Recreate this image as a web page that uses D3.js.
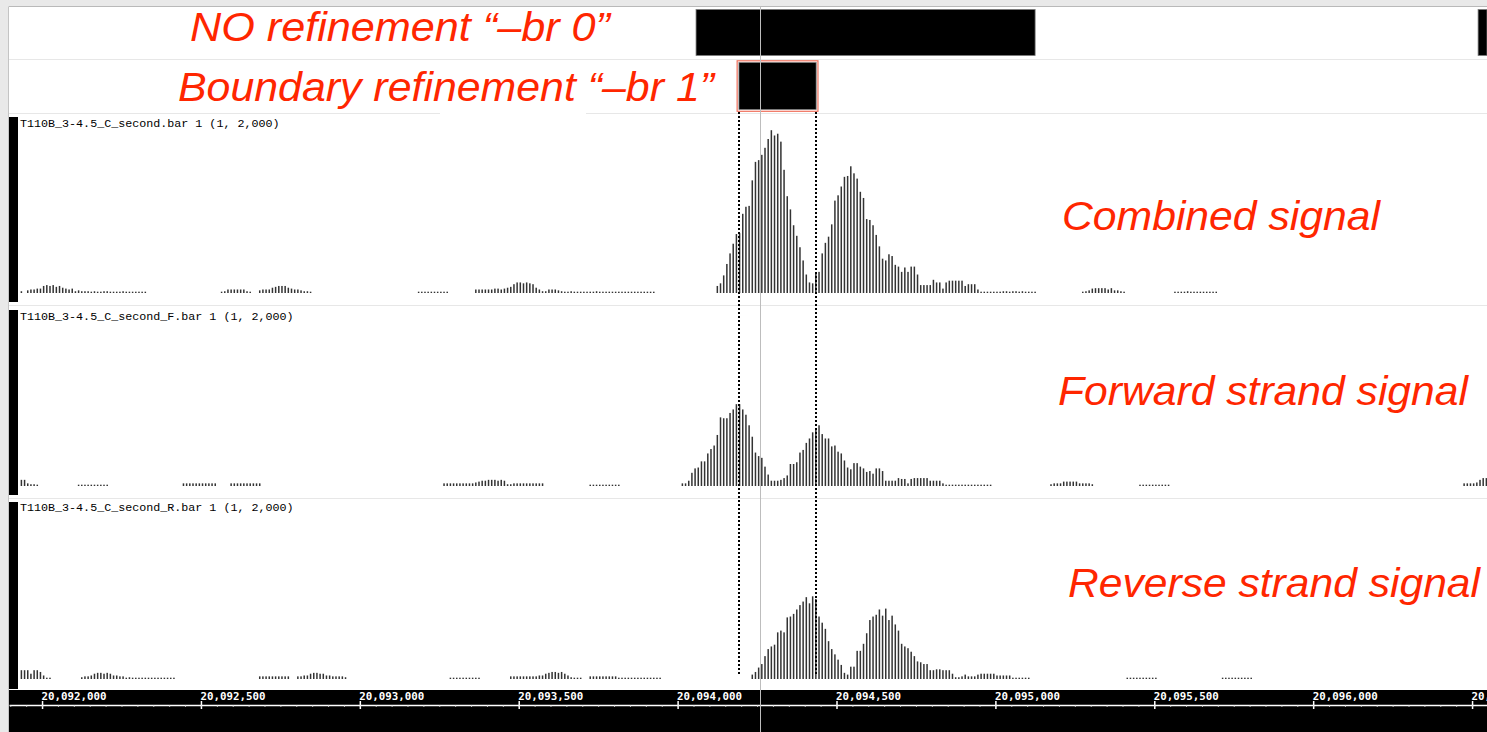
<!DOCTYPE html>
<html>
<head>
<meta charset="utf-8">
<script src="https://cdn.jsdelivr.net/npm/d3@7"></script>
<style>
  body { margin: 0; background: #e9e9e9; overflow: hidden; }
</style>
</head>
<body>
<div id="viz"></div>
<script>
// genome browser view: two feature rows + three bar tracks (10 bp bins)

const binSize = 10;
const viewRange = [20091896, 20096547];
const majorTicks = [20092000, 20092500, 20093000, 20093500, 20094000, 20094500, 20095000, 20095500, 20096000, 20096500];
const centerPosition = 20094260;

// feature rows [start, end]
const noRefineFeatures = [[20094058, 20095125], [20096519, 20096600]];
const refineFeatures = [[20094193, 20094436]];
const boundaryPositions = [20094193, 20094436];

const trackNames = ['T110B_3-4.5_C_second.bar 1 (1, 2,000)', 'T110B_3-4.5_C_second_F.bar 1 (1, 2,000)', 'T110B_3-4.5_C_second_R.bar 1 (1, 2,000)'];
const trackTitles = ['Combined signal', 'Forward strand signal', 'Reverse strand signal'];
const rowTitles = ['NO refinement \u201c\u2013br 0\u201d', 'Boundary refinement \u201c\u2013br 1\u201d'];

// combined signal
const combinedA = [20,0,30,40,40,50,50,80,90,80,90,70,80,60,50,40,50,20,30,20,20,20,15,20,15,15,20,20,15,15,15,15,20,15,15,15,15,15,15,15];
const combinedB = [15,20,40,40,40,40,40,40,20,15,0,0,30,40,40,40,60,70,80,80,80,60,50,40,40,30,20,20,15];
const combinedC = [15,15,15,15,15,15,15,15,15,15];
const combinedD = [40,40,40,40,40,40,50,50,40,50,60,70,100,120,120,110,120,110,100,60,40,20,20,40,40,40,30,20,15,15,20,15,15,15,15,15,15,15,20,15,15,15,15,15,15,15,15,15,15,15,15,15,15,15,15,15,15];
const combinedPeak = [80,110,200,330,450,560,670,680,900,980,990,1280,1490,1510,1570,1650,1750,1850,1790,1810,1720,1400,1100,950,770,650,520,370,210,120,110,220,240,450,570,640,780,1050,1110,1210,1320,1330,1440,1360,1300,1150,1080,840,830,770,660,530,390,370,440,420,320,300,240,290,240,300,300,210,90,90,90,90,150,120,120,50,120,140,140,140,140,140,80,100,100,100,40,15,15,15,15,15,15,15,20,20,15,20,20,15,20,15,15,15,15];
const combinedE = [15,20,30,50,55,55,55,55,40,55,30,30,20,15];
const combinedF = [15,15,15,15,20,15,15,15,15,15,15,15,15,15];

// forward strand
const forwardA = [70,70,30,20,20,15];
const forwardB = [15,15,15,15,15,15,15,15,15,15];
const forwardC = [30,30,30,30,30,30,30,30,30,30,30];
const forwardD = [30,30,30,30,30,30,30,30,30,30];
const forwardE = [30,30,30,30,30,30,30,30,30,30];
const forwardF = [40,50,60,60,70,70,70,60,70,60,20,20,30,30,30,30,30,30,30,30,30,30];
const forwardG = [15,15,15,15,15,15,15,15,15,15];
const forwardPeak = [30,30,60,150,200,210,280,280,370,420,460,580,780,770,770,830,870,930,930,870,810,690,560,380,340,320,220,130,60,60,60,70,90,120,250,250,270,380,410,490,540,610,650,690,590,540,540,450,460,390,370,290,210,190,260,260,220,200,160,170,140,200,200,170,60,60,60,60,90,80,80,30,80,90,90,90,90,90,60,60,60,60,30,15,15,15,15,15,15,15,15,15,15,15,15,15,15,15];
const forwardH = [20,30,30,30,50,50,50,50,50,30,30,30,30,20];
const forwardI = [15,15,15,15,15,15,15,15,15,15];
const forwardJ = [30,30,30,30,40,70,90,90];

// reverse strand
const reverseA = [100,100,100,60,100,100,80,40,15,15];
const reverseB = [20,30,30,40,60,70,70,60,70,60,40,40,30,30,15,20,15,15,15,15,15,15,15,15,15,15,15,15,15,15];
const reverseC = [30,30,30,30,30,30,30,30,30,30];
const reverseD = [30,30,40,40,60,70,70,60,60,40,40,30,30,30,30,20];
const reverseE = [15,15,15,15,15,15,15,15,15,15];
const reverseF = [30,30,30,30,30,30,30,30,30,40,40,60,70,80,80,70,80,60,40,20,15,15,15];
const reverseG = [30,30,30,30,30,30,30,30,30,15,15,15,15,15,15,15,15,15,15,15,15,15,15];
const reversePeak = [50,80,130,170,260,340,370,390,530,550,530,700,710,740,790,840,880,930,860,940,910,710,640,570,430,340,280,220,160,70,50,140,140,320,320,400,520,670,710,730,790,720,800,670,720,620,550,400,370,350,310,260,200,190,170,170,100,100,110,110,100,100,100,60,20,20,30,50,30,30,30,50,60,60,60,60,60,40,40,40,40,40,15,15,15,15,15,15];
const reverseH = [15,15,15,15,15,15,15,15,15,15];
const reverseI = [15,15,15,15,15,15,15,15,15,15];

const combinedSegments = [[20091930, combinedA], [20092560, combinedB], [20093180, combinedC], [20093360, combinedD], [20094120, combinedPeak], [20095270, combinedE], [20095560, combinedF]];
const forwardSegments = [[20091930, forwardA], [20092110, forwardB], [20092440, forwardC], [20092590, forwardD], [20093260, forwardE], [20093360, forwardF], [20093720, forwardG], [20094010, forwardPeak], [20095170, forwardH], [20095450, forwardI], [20096470, forwardJ]];
const reverseSegments = [[20091930, reverseA], [20092120, reverseB], [20092680, reverseC], [20092800, reverseD], [20093280, reverseE], [20093470, reverseF], [20093720, reverseG], [20094230, reversePeak], [20095410, reverseH], [20095710, reverseI]];

function drawChart() {
    const width = 1487, height = 732;
    const left = 9, top = 6.5;

    const svg = d3.select('#viz').append('svg')
        .attr('width', width)
        .attr('height', height)
        .style('display', 'block');

    const x = d3.scaleLinear().domain(viewRange).range([left, width]);

    // panel
    svg.append('rect').attr('x', left).attr('y', top)
        .attr('width', width - left).attr('height', height - top).attr('fill', '#fff');
    svg.append('line').attr('x1', left).attr('x2', width).attr('y1', top).attr('y2', top)
        .attr('stroke', '#b9b9b9');
    svg.append('line').attr('x1', left - 0.5).attr('x2', left - 0.5).attr('y1', top).attr('y2', height)
        .attr('stroke', '#c4c4c4');

    // separators
    const sepColor = '#e7e7e7';
    [59.5, 113.5, 305.5, 498.5].forEach(y => {
        svg.append('line').attr('x1', left).attr('x2', width).attr('y1', y).attr('y2', y)
            .attr('stroke', sepColor);
    });

    // feature rows
    const featureRow = (features, y0, y1) => {
        svg.append('g').selectAll('rect')
            .data(features)
            .enter().append('rect')
                .attr('x', d => x(d[0]))
                .attr('y', y0)
                .attr('width', d => Math.min(x(d[1]), width) - x(d[0]))
                .attr('height', y1 - y0)
                .attr('fill', '#000')
                .attr('stroke', '#7a7a7a')
                .attr('stroke-width', 0.8);
    };
    featureRow(noRefineFeatures, 9.5, 55.5);
    featureRow(refineFeatures, 62.5, 109.5);

    svg.append('g').selectAll('rect')
        .data(refineFeatures)
        .enter().append('rect')
            .attr('x', d => x(d[0]) - 1.8)
            .attr('y', 60.8)
            .attr('width', d => x(d[1]) - x(d[0]) + 3.6)
            .attr('height', 50.5)
            .attr('fill', 'none')
            .attr('stroke', '#f0705c')
            .attr('stroke-width', 1.2);

    // bar tracks
    const tracks = [
        { name: trackNames[0], segments: combinedSegments, base: 293, y0: 117, y1: 302, labelY: 126.5 },
        { name: trackNames[1], segments: forwardSegments, base: 486, y0: 310, y1: 495, labelY: 319.5 },
        { name: trackNames[2], segments: reverseSegments, base: 679, y0: 502, y1: 689, labelY: 511 }
    ];

    tracks.forEach(t => {
        const y = d3.scaleLinear().domain([0, 2000]).range([t.base, t.base - 176]);

        svg.append('rect').attr('x', left).attr('y', t.y0)
            .attr('width', 9).attr('height', t.y1 - t.y0).attr('fill', '#000');

        const bins = [];
        t.segments.forEach(([start, values]) => {
            values.forEach((v, i) => {
                if (v > 0) bins.push({ pos: start + i * binSize, value: v });
            });
        });

        svg.append('g').selectAll('rect')
            .data(bins)
            .enter().append('rect')
                .attr('x', d => x(d.pos + binSize / 2) - 0.75)
                .attr('y', d => y(d.value))
                .attr('width', 1.5)
                .attr('height', d => y(0) - y(d.value))
                .attr('fill', '#333');

        svg.append('text')
            .attr('x', 20)
            .attr('y', t.labelY)
            .attr('font-family', "'Liberation Mono', 'Courier New', monospace")
            .attr('font-size', 11.7)
            .attr('fill', '#000')
            .text(t.name);
    });

    // axis band
    svg.append('rect').attr('x', left).attr('y', 690)
        .attr('width', width - left).attr('height', height - 690).attr('fill', '#000');

    const axisG = svg.append('g').attr('transform', 'translate(0,705)');
    axisG.append('g')
        .call(d3.axisTop(x).tickValues(majorTicks).tickSize(4).tickSizeOuter(0).tickPadding(1).tickFormat(d3.format(',')))
        .call(g => g.select('.domain').attr('stroke', '#fff').attr('stroke-width', 1.6))
        .call(g => g.selectAll('.tick line').attr('stroke', '#fff').attr('stroke-width', 1.5))
        .call(g => g.selectAll('.tick text')
            .attr('fill', '#fff')
            .attr('text-anchor', 'start')
            .attr('x', -1)
            .attr('dy', '0em')
            .attr('font-family', "'DejaVu Sans Mono', monospace")
            .attr('font-weight', 'bold')
            .attr('font-size', 10.8));
    axisG.append('g')
        .call(d3.axisBottom(x).tickValues(majorTicks).tickSize(4).tickSizeOuter(0).tickFormat(''))
        .call(g => g.select('.domain').remove())
        .call(g => g.selectAll('.tick line').attr('stroke', '#fff').attr('stroke-width', 1.5));
    axisG.append('g')
        .call(d3.axisBottom(x).tickValues(d3.range(20091900, 20096550, 50)).tickSize(2).tickSizeOuter(0).tickFormat(''))
        .call(g => g.select('.domain').remove())
        .call(g => g.selectAll('.tick line').attr('stroke', '#ddd').attr('stroke-width', 0.8));

    // center line
    const cx = Math.round(x(centerPosition)) + 0.5;
    svg.append('line').attr('x1', cx).attr('x2', cx).attr('y1', top).attr('y2', height)
        .attr('stroke', '#bdbdbd').attr('stroke-width', 1);

    // boundary dotted lines
    svg.append('g').selectAll('line')
        .data(boundaryPositions)
        .enter().append('line')
            .attr('x1', d => Math.round(x(d)) - 0.5)
            .attr('x2', d => Math.round(x(d)) - 0.5)
            .attr('y1', 112)
            .attr('y2', 674)
            .attr('stroke', '#000')
            .attr('stroke-width', 2)
            .attr('stroke-dasharray', '2,2')
            .attr('shape-rendering', 'crispEdges');

    // annotations
    svg.append('rect').attr('x', 440).attr('y', 111).attr('width', 146).attr('height', 5).attr('fill', '#fff');

    const red = '#ff2600';
    const notes = [
        { text: rowTitles[0], x: 190, y: 41, w: 420 },
        { text: rowTitles[1], x: 178, y: 101, w: 536 },
        { text: trackTitles[0], x: 1062, y: 230, w: 318 },
        { text: trackTitles[1], x: 1058, y: 405, w: 410 },
        { text: trackTitles[2], x: 1068, y: 597, w: 412 }
    ];
    svg.append('g').selectAll('text')
        .data(notes)
        .enter().append('text')
            .attr('x', d => d.x)
            .attr('y', d => d.y)
            .attr('textLength', d => d.w)
            .attr('lengthAdjust', 'spacingAndGlyphs')
            .attr('font-family', "'Liberation Sans', Arial, sans-serif")
            .attr('font-style', 'italic')
            .attr('font-size', 41)
            .attr('fill', red)
            .text(d => d.text);
}

drawChart();
</script>
</body>
</html>
